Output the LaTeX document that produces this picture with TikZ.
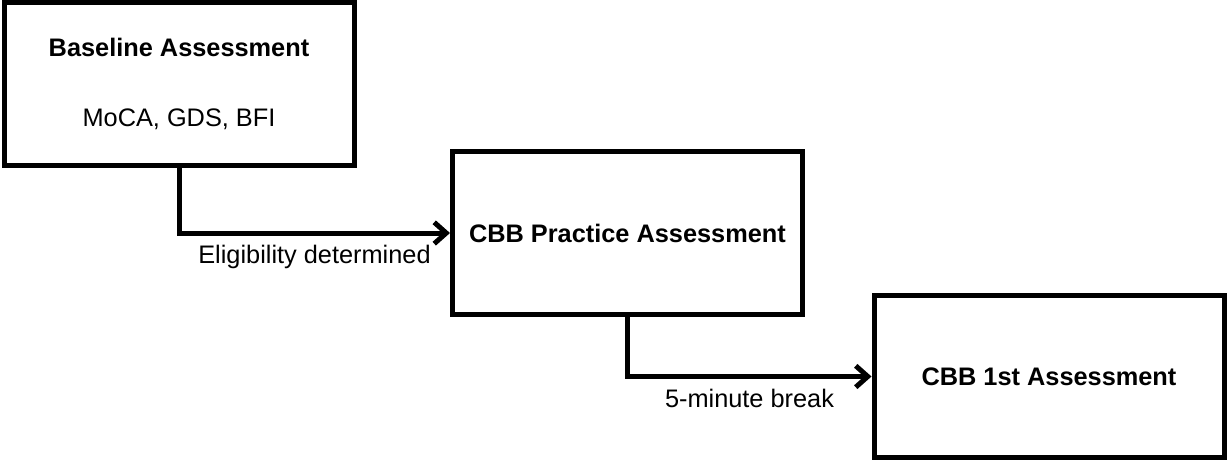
\documentclass[tikz,border=0pt]{standalone}
\usepackage{fontspec}
\setmainfont{Liberation Sans}
\usepackage{tikz}
\usetikzlibrary{arrows.meta}
\tikzstyle{stagebox} = [draw=black, line width=3.75pt, minimum width=262.5pt, minimum height=122pt, align=center, font=\fontsize{19}{23}\selectfont]
\tikzstyle{arrow} = [line width=3.75pt, -{Straight Barb[length=9pt,width=16pt]}]
\tikzstyle{steplabel} = [font=\fontsize{19}{23}\selectfont]

\begin{document}
\begin{tikzpicture}[x=0.75pt,y=-0.75pt]
  \useasboundingbox (0,0) rectangle (1227,465);
  % boxes
  \node[stagebox] (baseline) at (179,84) {\textbf{Baseline Assessment}\\[29pt]MoCA, GDS, BFI};
  \node[stagebox] (practice) at (627.5,233) {\textbf{CBB Practice Assessment}};
  \node[stagebox] (first) at (1049,376.5) {\textbf{CBB 1st Assessment}};
  % connectors
  \draw[arrow] (baseline.south) |- node[steplabel, pos=0.75, below=4pt] {Eligibility determined} (practice.west);
  \draw[arrow] (practice.south) |- node[steplabel, pos=0.75, below=4pt] {5-minute break} (first.west);
\end{tikzpicture}
\end{document}
